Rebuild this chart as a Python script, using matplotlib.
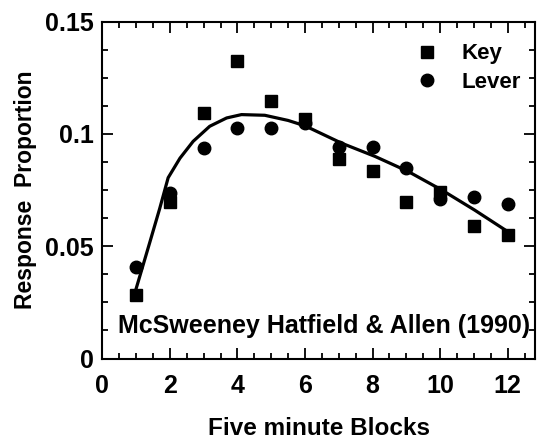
import matplotlib.pyplot as plt
from matplotlib.ticker import MultipleLocator

plt.rcParams['font.family'] = ['Liberation Sans', 'DejaVu Sans']
plt.rcParams['font.weight'] = 'bold'
plt.rcParams['axes.labelweight'] = 'bold'

blocks = [1, 2, 3, 4, 5, 6, 7, 8, 9, 10, 11, 12]
key = [0.0285, 0.0698, 0.1094, 0.1325, 0.1146, 0.1068, 0.0888, 0.0836, 0.0698, 0.0740, 0.0590, 0.0549]
lever = [0.0407, 0.0735, 0.0937, 0.1026, 0.1026, 0.1049, 0.0940, 0.0940, 0.0847, 0.0710, 0.0721, 0.0688]

# fitted curve
fit_x = [1.0, 1.41, 1.70, 1.95, 2.30, 2.69, 3.18, 3.68, 4.12, 4.81,
         5.50, 6.0, 7.08, 8.07, 9.05, 10.04, 11.02, 11.95]
fit_y = [0.031, 0.0519, 0.0668, 0.0805, 0.0892, 0.0967, 0.1034, 0.1071, 0.1086, 0.1083,
         0.106, 0.1036, 0.0959, 0.090, 0.0833, 0.0751, 0.0661, 0.0570]

fig = plt.figure(figsize=(5.44, 4.41), dpi=100)
ax = fig.add_axes([0.188, 0.187, 0.795, 0.764])

ax.plot(fit_x, fit_y, color='black', lw=2.3, zorder=2)
ax.plot(blocks, key, 's', color='black', ms=8.5, label='Key', zorder=3)
ax.plot(blocks, lever, 'o', color='black', ms=9, label='Lever', zorder=3)

ax.set_xlim(0, 12.8)
ax.set_ylim(0, 0.15)
ax.xaxis.set_major_locator(MultipleLocator(2))
ax.xaxis.set_minor_locator(MultipleLocator(0.5))
ax.yaxis.set_minor_locator(MultipleLocator(0.0125))
ax.set_yticks([0, 0.05, 0.1, 0.15])
ax.set_yticklabels(['0', '0.05', '0.1', '0.15'])

ax.tick_params(which='both', direction='in', top=True, right=True, width=1.3, labelsize=18)
ax.tick_params(axis='x', pad=11)
ax.tick_params(axis='y', pad=6)
ax.tick_params(which='major', length=8)
ax.tick_params(which='minor', length=4)
for s in ax.spines.values():
    s.set_linewidth(1.5)

ax.set_xlabel('Five minute Blocks', fontsize=17.5, labelpad=14)
ax.set_ylabel('Response  Proportion', fontsize=16.5, labelpad=6)

ax.text(0.037, 0.096, 'McSweeney Hatfield & Allen (1990)', transform=ax.transAxes,
        fontsize=18, va='center', ha='left')

ax.legend(loc='upper right', bbox_to_anchor=(1.015, 0.995), frameon=False, fontsize=16,
          handlelength=1.0, handletextpad=1.05, borderaxespad=0.5, labelspacing=0.35)

fig.savefig('out.png', dpi=100)
